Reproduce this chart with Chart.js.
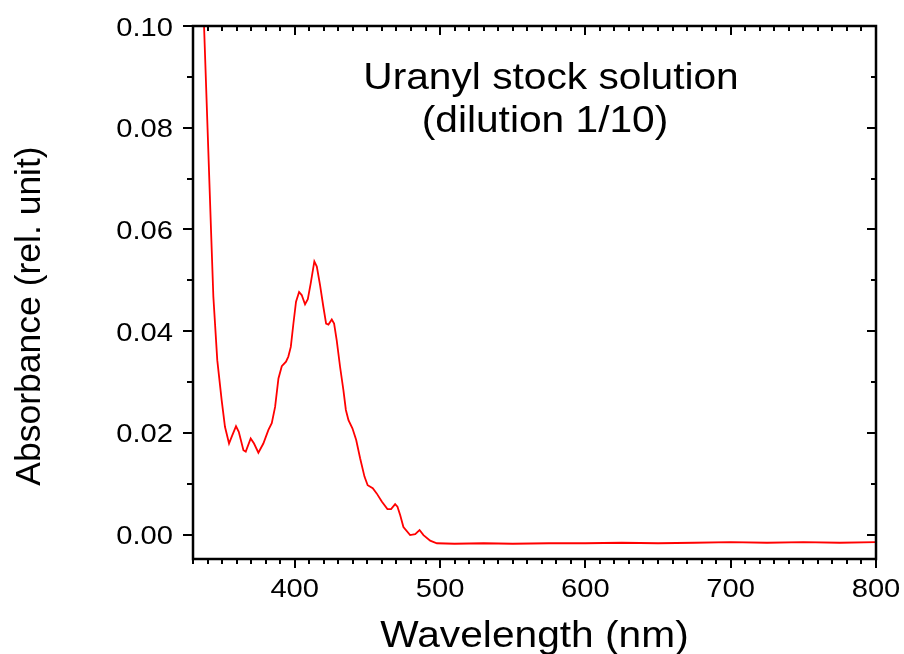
<!DOCTYPE html>
<html>
<head>
<meta charset="utf-8">
<script src="https://cdn.jsdelivr.net/npm/chart.js@4"></script>
<style>
  html, body { margin: 0; padding: 0; background: #fff; }
  #wrap { width: 904px; height: 654px; position: relative; }
</style>
</head>
<body>
<div id="wrap"><canvas id="spectrum"></canvas></div>
<script>
// wavelength (nm) / absorbance
var wavelength = [335, 337.6, 340, 341.7, 342.4, 344, 346.7, 349.7, 352, 354.8, 356.6, 359.6, 361.5, 364.7, 366.3, 369.7, 372, 375, 378.4, 381.9, 384.2, 386.5, 388.8, 391.1, 394, 395.6, 397.3, 399.1, 400.9, 403, 404.8, 407.1, 409, 411, 413.5, 415.2, 417.4, 419.7, 421.6, 423.2, 425.5, 427.1, 428.9, 431.2, 433.5, 435.2, 437, 439.7, 442.3, 445, 448, 450.2, 453.7, 456.4, 459.9, 463.8, 466.3, 469.1, 470.7, 472.6, 474.8, 479.4, 482.9, 485.9, 488.6, 493.2, 497.8, 510, 530, 550, 575, 600, 625, 650, 675, 700, 725, 750, 775, 800];
var absorbance = [0.121, 0.100, 0.080, 0.0658, 0.0599, 0.0468, 0.0343, 0.0265, 0.0212, 0.0179, 0.0192, 0.0213, 0.0202, 0.0166, 0.0163, 0.0189, 0.0179, 0.0161, 0.0179, 0.0206, 0.0219, 0.0251, 0.0307, 0.0331, 0.0340, 0.0350, 0.0369, 0.0415, 0.0458, 0.0477, 0.0471, 0.0453, 0.0463, 0.0494, 0.0537, 0.0527, 0.0491, 0.0448, 0.0415, 0.0413, 0.0423, 0.0415, 0.0382, 0.0330, 0.0284, 0.0245, 0.0225, 0.0209, 0.0186, 0.0150, 0.0114, 0.0097, 0.0091, 0.0081, 0.0065, 0.0050, 0.0050, 0.0060, 0.0055, 0.0038, 0.0015, -0.0001, 0.0001, 0.0009, -0.0001, -0.0012, -0.0017, -0.0018, -0.0017, -0.0018, -0.0017, -0.0017, -0.0016, -0.0017, -0.0016, -0.0015, -0.0016, -0.0015, -0.0016, -0.0015];

var xTicks = [400, 500, 600, 700, 800];
var yTicks = [0.00, 0.02, 0.04, 0.06, 0.08, 0.10];
var xMinorStep = 10;
var yMinorStep = 0.01;

var xTitle = "Wavelength (nm)";
var yTitle = "Absorbance (rel. unit)";
var noteLines = ["Uranyl stock solution", "(dilution 1/10)"];

var points = [];
for (var i = 0; i < wavelength.length; i++) {
  points.push({ x: wavelength[i], y: absorbance[i] });
}

var SX = 1.1; // the original text is drawn a bit wide
var FONT = '"Liberation Sans", Arial, sans-serif';

function wideText(ctx, text, x, y, align) {
  ctx.save();
  ctx.translate(x, y);
  ctx.scale(SX, 1);
  ctx.textAlign = align;
  ctx.fillText(text, 0, 0);
  ctx.restore();
}

// frame, ticks on four sides and all texts
var framePlugin = {
  id: "frame",
  afterDraw: function (chart) {
    var ctx = chart.ctx;
    var a = chart.chartArea;
    var xs = chart.scales.x, ys = chart.scales.y;
    ctx.save();
    ctx.strokeStyle = "#000";
    ctx.fillStyle = "#000";
    ctx.lineWidth = 2.5;
    ctx.strokeRect(a.left, a.top, a.right - a.left, a.bottom - a.top);

    ctx.lineWidth = 2;
    ctx.beginPath();
    for (var v = xs.min; v <= xs.max + 0.001; v += xMinorStep) {
      var px = Math.round(xs.getPixelForValue(v));
      var major = xTicks.indexOf(Math.round(v)) !== -1;
      var len = major ? 9 : 5;
      ctx.moveTo(px, a.bottom); ctx.lineTo(px, a.bottom + len);
      ctx.moveTo(px, a.top); ctx.lineTo(px, a.top + len);
    }
    for (var k = 0; k <= 10; k++) {
      var yv = k * yMinorStep;
      var py = Math.round(ys.getPixelForValue(yv));
      var ymaj = k % 2 === 0;
      ctx.moveTo(a.left, py); ctx.lineTo(a.left - (ymaj ? 10 : 6), py);
      ctx.moveTo(a.right, py); ctx.lineTo(a.right - (ymaj ? 9 : 5), py);
    }
    ctx.stroke();

    ctx.font = "26.5px " + FONT;
    ctx.textBaseline = "alphabetic";
    xTicks.forEach(function (t) {
      wideText(ctx, String(t), xs.getPixelForValue(t), 597, "center");
    });
    yTicks.forEach(function (t) {
      wideText(ctx, t.toFixed(2), 173, ys.getPixelForValue(t) + 9.5, "right");
    });

    ctx.font = "37px " + FONT;
    wideText(ctx, xTitle, (a.left + a.right) / 2, 647, "center");
    wideText(ctx, noteLines[0], 551, 89, "center");
    wideText(ctx, noteLines[1], 545, 132, "center");

    ctx.font = "35.5px " + FONT;
    ctx.translate(40, 316);
    ctx.rotate(-Math.PI / 2);
    ctx.textAlign = "center";
    ctx.fillText(yTitle, 0, 0);
    ctx.restore();
  }
};

var chart = new Chart(document.getElementById("spectrum"), {
  type: "line",
  data: {
    datasets: [{
      label: "Uranyl",
      data: points,
      borderColor: "#ff0000",
      borderWidth: 1.8,
      pointRadius: 0,
      tension: 0,
      fill: false
    }]
  },
  options: {
    responsive: true,
    maintainAspectRatio: false,
    animation: false,
    layout: { padding: { top: 26, right: 28, left: 0, bottom: 0 } },
    plugins: { legend: { display: false }, tooltip: { enabled: false } },
    scales: {
      x: {
        type: "linear",
        min: 330,
        max: 800,
        afterBuildTicks: function (s) { s.ticks = xTicks.map(function (v) { return { value: v }; }); },
        afterFit: function (s) { s.height = 95; },
        ticks: { display: false },
        grid: { display: false },
        border: { display: false }
      },
      y: {
        min: -0.0048,
        max: 0.10,
        afterBuildTicks: function (s) { s.ticks = yTicks.map(function (v) { return { value: v }; }); },
        afterFit: function (s) { s.width = 193; },
        ticks: { display: false },
        grid: { display: false },
        border: { display: false }
      }
    }
  },
  plugins: [framePlugin]
});
</script>
</body>
</html>
